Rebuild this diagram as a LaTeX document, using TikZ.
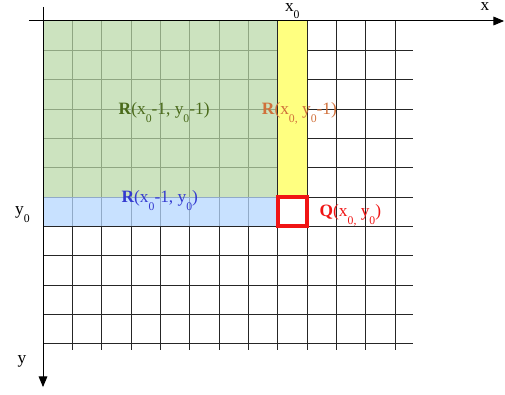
\documentclass[tikz,border=0pt]{standalone}
\usepackage{fontspec}
\setmainfont{Liberation Serif}
\usetikzlibrary{arrows.meta}
\definecolor{cellgreen}{RGB}{184,216,166}
\definecolor{cellblue}{RGB}{182,215,255}
\definecolor{cellyellow}{RGB}{255,255,128}
\definecolor{txtgreen}{RGB}{74,106,26}
\definecolor{txtorange}{RGB}{208,112,58}
\definecolor{txtblue}{RGB}{52,58,208}
\definecolor{txtred}{RGB}{240,20,20}
\newcommand{\lo}[1]{\raisebox{-0.45em}{\fontsize{8.8}{9}\selectfont #1}}

\begin{document}
\begin{tikzpicture}[x=22pt, y=22pt, font=\fontsize{13}{15}\selectfont,
    gridline/.style={black!85, line width=0.65pt},
    toplabel/.style={anchor=base, inner sep=1pt, text height=1.1ex},
    axis/.style={black, line width=0.75pt, -{Triangle[length=8pt,width=6.5pt]}}]
    \useasboundingbox (-1.466,0.716) rectangle (15.75,-12.717);

    % grid of cells
    \foreach \i in {1,...,12}
        \draw[gridline] (\i,0) -- (\i,-11.22);
    \foreach \j in {1,...,11}
        \draw[gridline] (0,-\j) -- (12.62,-\j);

    % regions already computed
    \fill[cellgreen, opacity=0.72] (0,0) rectangle (8,-6);
    \fill[cellblue, opacity=0.75] (0,-6) rectangle (8,-7);
    \fill[cellyellow] (8,0) rectangle (9,-6);
    \draw[gridline] (8,0) -- (8,-7);
    \draw[gridline] (9,0) -- (9,-7);
    \draw[gridline] (0,-7) -- (8,-7);

    % current cell
    \draw[txtred, line width=3pt] (8,-6) rectangle (9,-7);

    % axes
    \coordinate (xstart) at (-0.48,0);
    \coordinate (xend) at (15.72,0);
    \coordinate (ystart) at (0,0.48);
    \coordinate (yend) at (0,-12.48);
    \draw[axis] (xstart) -- (xend);
    \draw[axis] (ystart) -- (yend);

    \node[toplabel] (xlab) at (15.07,0.36) {x};
    \node[toplabel] (xzero) at (8.5,0.34) {x\lo{0}};
    \node[anchor=base] (ylab) at (-0.72,-11.66) {y};
    \node[anchor=base] (yzero) at (-0.7,-6.6) {y\lo{0}};

    % labels
    \node[anchor=base, txtgreen] (Rdiag) at (4.13,-3.2)
        {\textbf{R}(x\lo{0}-1, y\lo{0}-1)};
    \node[anchor=base, txtorange] (Rtop) at (8.74,-3.2)
        {\textbf{R}(x\lo{0,} y\lo{0}-1)};
    \node[anchor=base, txtblue] (Rleft) at (3.98,-6.2)
        {\textbf{R}(x\lo{0}-1, y\lo{0})};
    \node[anchor=base, txtred] (Q) at (10.48,-6.67)
        {\textbf{Q}(x\lo{0,} y\lo{0})};
\end{tikzpicture}
\end{document}
